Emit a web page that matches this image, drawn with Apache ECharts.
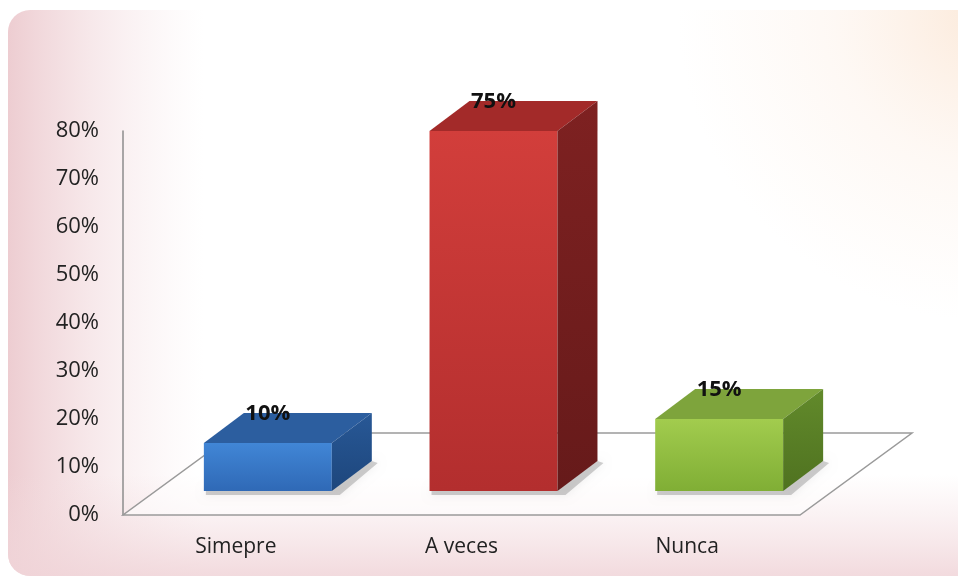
<!DOCTYPE html>
<html>
<head>
<meta charset="utf-8">
<script src="https://cdn.jsdelivr.net/npm/echarts@6/dist/echarts.min.js"></script>
<style>
html, body { margin: 0; padding: 0; background: #fff; }
#main { width: 958px; height: 581px; }
</style>
</head>
<body>
<div id="main"></div>
<script>
// datos
var categories = ['Simepre', 'A veces', 'Nunca'];
var values = [0.10, 0.75, 0.15];
var tickLabels = ['0%', '10%', '20%', '30%', '40%', '50%', '60%', '70%', '80%'];

// colores de cada barra: frente (arriba/abajo), tapa, lateral
var faceColors = [
    { front: ['#4186d6', '#2f69b6'], top: '#2c5e9f', side: ['#285896', '#1d467c'] },
    { front: ['#d23e3b', '#b32e2e'], top: '#a32a29', side: ['#7e2121', '#661a1a'] },
    { front: ['#a2cc4e', '#80ae35'], top: '#7ea43c', side: ['#628a2b', '#4f7220'] }
];

var FONT = "'Open Sans', sans-serif";
// perspectiva del piso y de las barras
var FLOOR_DX = 112, FLOOR_DY = -82;
var OFF_X = 32, OFF_Y = -24;
var DEPTH_X = 40, DEPTH_Y = -30;
var BAR_RATIO = 0.567;

var chart = echarts.init(document.getElementById('main'));

function renderFloor(params, api) {
    var cs = params.coordSys;
    var x = cs.x, y = cs.y + cs.height, w = cs.width;
    return {
        type: 'polygon',
        shape: { points: [[x, y], [x + w, y], [x + w + FLOOR_DX, y + FLOOR_DY], [x + FLOOR_DX, y + FLOOR_DY]] },
        style: { fill: 'rgba(255,255,255,0.55)', stroke: '#9a9a9a', lineWidth: 1.5 }
    };
}

function renderBar(params, api) {
    var i = api.value(0), v = api.value(1);
    var base = api.coord([i, 0]);
    var top = api.coord([i, v]);
    var w = api.size([1, 0])[0] * BAR_RATIO;
    var x0 = base[0] - w / 2 + OFF_X, x1 = x0 + w;
    var yb = base[1] + OFF_Y, yt = top[1] + OFF_Y;
    var c = faceColors[params.dataIndex];
    return {
        type: 'group',
        children: [
            // sombra suave
            {
                type: 'polygon',
                shape: { points: [[x0 + 2, yb - 2], [x1, yb - 2], [x1 + DEPTH_X, yb + DEPTH_Y], [x1 + DEPTH_X + 6, yb + DEPTH_Y + 2], [x1 + 8, yb + 4], [x0 + 2, yb + 4]] },
                style: { fill: 'rgba(0,0,0,0.18)', shadowBlur: 10, shadowColor: 'rgba(0,0,0,0.4)' }
            },
            {
                type: 'rect',
                shape: { x: x0, y: yt, width: w, height: yb - yt },
                style: { fill: new echarts.graphic.LinearGradient(0, 0, 0, 1, [
                    { offset: 0, color: c.front[0] }, { offset: 1, color: c.front[1] }
                ]) }
            },
            {
                type: 'polygon',
                shape: { points: [[x0, yt], [x1, yt], [x1 + DEPTH_X, yt + DEPTH_Y], [x0 + DEPTH_X, yt + DEPTH_Y]] },
                style: { fill: c.top }
            },
            {
                type: 'polygon',
                shape: { points: [[x1, yt], [x1 + DEPTH_X, yt + DEPTH_Y], [x1 + DEPTH_X, yb + DEPTH_Y], [x1, yb]] },
                style: { fill: new echarts.graphic.LinearGradient(0, 0, 0, 1, [
                    { offset: 0, color: c.side[0] }, { offset: 1, color: c.side[1] }
                ]) }
            },
            {
                type: 'text',
                style: {
                    text: Math.round(v * 100) + '%',
                    x: base[0] + OFF_X, y: yt + DEPTH_Y + 1,
                    align: 'center', verticalAlign: 'middle',
                    fontFamily: FONT, fontSize: 22, fontWeight: 'bold', fill: '#111'
                }
            }
        ]
    };
}

chart.setOption({
    backgroundColor: '#fff',
    animation: false,
    graphic: [
        { type: 'rect', z: -10, shape: { x: 8, y: 10, width: 980, height: 566, r: 22 }, style: { fill: '#fff' } },
        { type: 'rect', z: -9, shape: { x: 8, y: 10, width: 980, height: 566, r: 22 },
          style: { fill: new echarts.graphic.LinearGradient(0, 0, 1, 0, [
              { offset: 0, color: 'rgba(234,196,201,0.85)' }, { offset: 0.2, color: 'rgba(245,225,228,0)' }
          ]) } },
        { type: 'rect', z: -8, shape: { x: 8, y: 10, width: 980, height: 566, r: 22 },
          style: { fill: new echarts.graphic.LinearGradient(0, 0, 0, 1, [
              { offset: 0.82, color: 'rgba(243,220,223,0)' }, { offset: 1, color: 'rgba(240,212,216,0.85)' }
          ]) } },
        { type: 'rect', z: -7, shape: { x: 8, y: 10, width: 980, height: 566, r: 22 },
          style: { fill: new echarts.graphic.RadialGradient(1, 0, 0.55, [
              { offset: 0, color: 'rgba(251,228,208,0.8)' }, { offset: 0.5, color: 'rgba(252,236,224,0.35)' }, { offset: 1, color: 'rgba(252,238,228,0)' }
          ]) } }
    ],
    grid: { left: 123, right: 158, top: 131, bottom: 66 },
    xAxis: {
        type: 'category',
        data: categories,
        axisLine: { show: false },
        axisTick: { show: false },
        axisLabel: { margin: 22, fontFamily: FONT, fontSize: 21, color: '#222' }
    },
    yAxis: {
        type: 'value',
        min: 0, max: 0.8, interval: 0.1,
        splitLine: { show: false },
        axisTick: { show: false },
        axisLine: { show: true, lineStyle: { color: '#8c8c8c', width: 1.5 } },
        axisLabel: {
            margin: 24, fontFamily: FONT, fontSize: 22, color: '#222',
            formatter: function (v) { return tickLabels[Math.round(v * 10)]; }
        }
    },
    series: [
        { type: 'custom', renderItem: renderFloor, data: [[0, 0]], z: 1, silent: true },
        { type: 'custom', renderItem: renderBar, data: values.map(function (v, i) { return [i, v]; }), z: 3 }
    ]
});
</script>
</body>
</html>
